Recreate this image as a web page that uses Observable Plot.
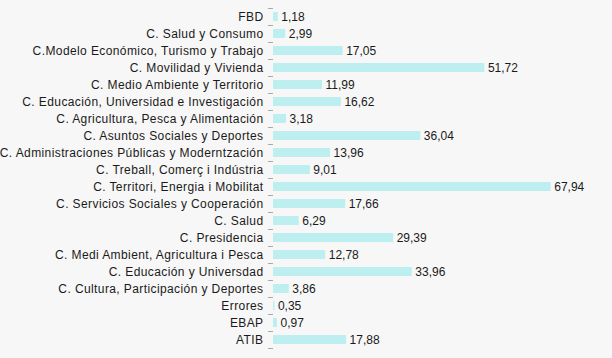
<!DOCTYPE html>
<html>
<head>
<meta charset="utf-8">
<script src="https://cdn.jsdelivr.net/npm/d3@7"></script>
<script src="https://cdn.jsdelivr.net/npm/@observablehq/plot@0.6"></script>
<style>
  html, body { margin: 0; padding: 0; background: #f7f7f7; }
  #chart svg { display: block; }
  #chart svg g[aria-label="y-axis tick label"] text { letter-spacing: 0.4px; }
</style>
</head>
<body>
<div id="chart"></div>
<script>
const categories = [
  "FBD",
  "C. Salud y Consumo",
  "C.Modelo Económico, Turismo y Trabajo",
  "C. Movilidad y Vivienda",
  "C. Medio Ambiente y Territorio",
  "C. Educación, Universidad e Investigación",
  "C. Agricultura, Pesca y Alimentación",
  "C. Asuntos Sociales y Deportes",
  "C. Administraciones Públicas y Moderntzación",
  "C. Treball, Comerç i Indústria",
  "C. Territori, Energia i Mobilitat",
  "C. Servicios Sociales y Cooperación",
  "C. Salud",
  "C. Presidencia",
  "C. Medi Ambient, Agricultura i Pesca",
  "C. Educación y Universdad",
  "C. Cultura, Participación y Deportes",
  "Errores",
  "EBAP",
  "ATIB"
];
const values = [1.18, 2.99, 17.05, 51.72, 11.99, 16.62, 3.18, 36.04, 13.96, 9.01, 67.94, 17.66, 6.29, 29.39, 12.78, 33.96, 3.86, 0.35, 0.97, 17.88];

const data = categories.map((c, i) => ({category: c, value: values[i]}));
const fmt = v => v.toFixed(2).replace(".", ",");

const W = 612, H = 358, mTop = 7, mBottom = 10, mLeft = 273, mRight = 12;
const step = (H - mTop - mBottom) / categories.length;

const chart = Plot.plot({
  width: W,
  height: H,
  marginTop: mTop,
  marginBottom: mBottom,
  marginLeft: mLeft,
  marginRight: mRight,
  style: {background: "#f7f7f7", fontFamily: "'Liberation Sans', Arial, sans-serif", fontSize: "12px", color: "#1a1a1a"},
  x: {domain: [0, 80], axis: null},
  y: {domain: categories, paddingInner: 0.5, paddingOuter: 0.25, align: 0.5, axis: null},
  marks: [
    Plot.barX(data, {x: "value", y: "category", fill: "#bdeff0"}),
    Plot.axisY({tickSize: 0, tickPadding: 10, fontSize: 12, label: null, fill: "#1a1a1a"}),
    Plot.ruleX([0], {stroke: "#a8a8a8", y1: null}),
    Plot.ruleY(categories, {y: d => d, x1: -1.25, x2: 0, stroke: "#a8a8a8", dy: -step / 2}),
    Plot.ruleY([categories[categories.length - 1]], {y: d => d, x1: -1.25, x2: 0, stroke: "#a8a8a8", dy: step / 2}),
    Plot.text(data, {x: "value", y: "category", text: d => fmt(d.value), textAnchor: "start", dx: 3, fill: "#1a1a1a", fontSize: 12})
  ]
});
document.getElementById("chart").appendChild(chart);
</script>
</body>
</html>
